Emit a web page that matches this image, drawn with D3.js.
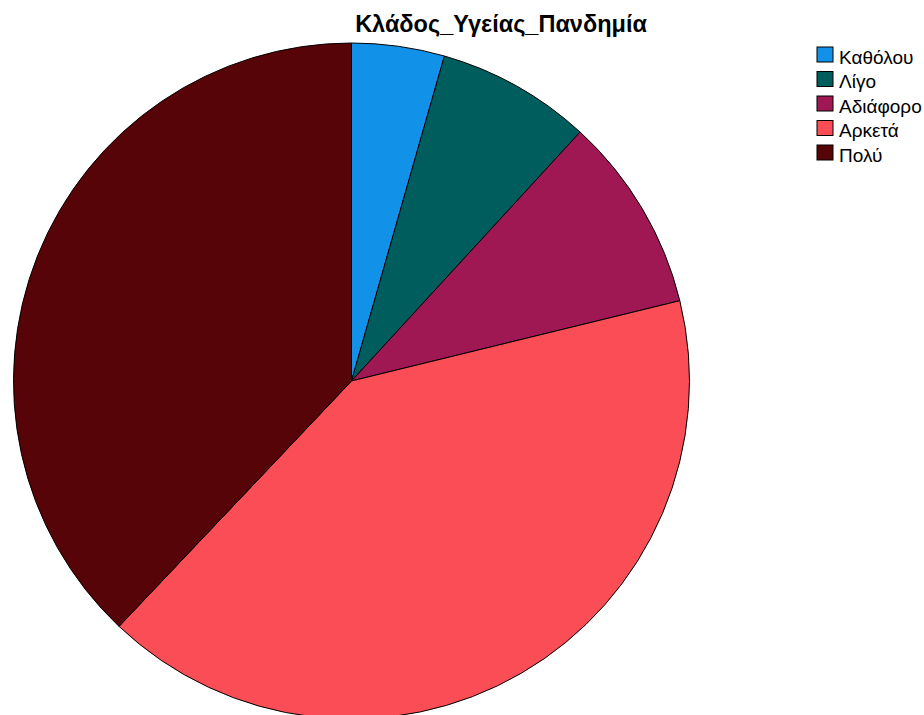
<!DOCTYPE html>
<html>
<head>
<meta charset="utf-8">
<script src="https://cdn.jsdelivr.net/npm/d3@7"></script>
<style>
  html, body { margin: 0; padding: 0; background: #fff; }
  svg { display: block; font-family: "Liberation Sans", Arial, sans-serif; }
</style>
</head>
<body>
<svg id="chart" width="924" height="715"></svg>
<script>
// Response categories and their counts
const categories = ["Καθόλου", "Λίγο", "Αδιάφορο", "Αρκετά", "Πολύ"];
const counts = [9, 15, 19, 83, 77];
const colors = ["#1192e8", "#005d5d", "#9f1853", "#fa4d56", "#570408"];
const title = "Κλάδος_Υγείας_Πανδημία";

const svg = d3.select("#chart");
const cx = 351.5, cy = 381, radius = 338;

const data = categories.map((c, i) => ({ name: c, value: counts[i] }));

const pie = d3.pie().value(d => d.value).sort(null);
const arc = d3.arc().innerRadius(0).outerRadius(radius);
const color = d3.scaleOrdinal().domain(categories).range(colors);

const g = svg.append("g").attr("transform", `translate(${cx},${cy})`);
g.selectAll("path")
  .data(pie(data))
  .join("path")
  .attr("d", arc)
  .attr("fill", d => color(d.data.name))
  .attr("stroke", "#000")
  .attr("stroke-width", 1)
  .attr("stroke-linejoin", "round");

svg.append("text")
  .attr("x", 501)
  .attr("y", 32)
  .attr("text-anchor", "middle")
  .attr("font-size", 23.5)
  .attr("font-weight", "bold")
  .attr("fill", "#000")
  .text(title);

// Legend
const legend = svg.append("g").attr("transform", "translate(817,47)");
const rows = legend.selectAll("g")
  .data(categories)
  .join("g")
  .attr("transform", (d, i) => `translate(0,${i * 24.5})`);
rows.append("rect")
  .attr("width", 16)
  .attr("height", 15)
  .attr("fill", d => color(d))
  .attr("stroke", "#000")
  .attr("stroke-width", 1);
rows.append("text")
  .attr("x", 22)
  .attr("y", 16.5)
  .attr("font-size", 19)
  .attr("fill", "#000")
  .text(d => d);
</script>
</body>
</html>
